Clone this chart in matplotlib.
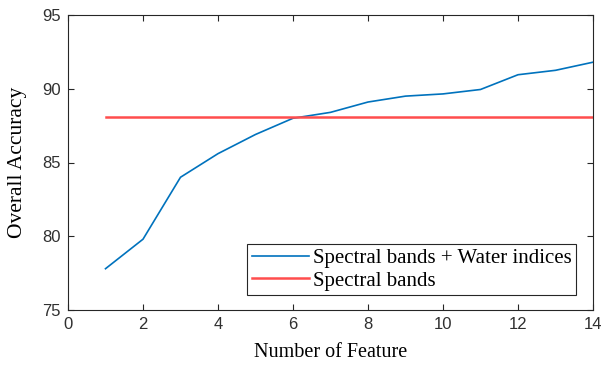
import matplotlib
matplotlib.use('Agg')
import matplotlib.pyplot as plt

# data
n_features = [1, 2, 3, 4, 5, 6, 7, 8, 9, 10, 11, 12, 13, 14]
acc_bands_indices = [77.8, 79.8, 84.0, 85.6, 86.9, 88.0, 88.4, 89.1, 89.5, 89.65, 89.95, 90.95, 91.25, 91.8]
acc_bands = 88.1

xticks = [0, 2, 4, 6, 8, 10, 12, 14]
yticks = [75, 80, 85, 90, 95]

fig = plt.figure(figsize=(6.03, 3.68), dpi=100)
ax = fig.add_axes([68 / 603, 58 / 368, 525 / 603, 295 / 368])

ax.plot(n_features, acc_bands_indices, color='#0072BD', lw=1.2,
        label='Spectral bands + Water indices')
ax.plot([n_features[0], n_features[-1]], [acc_bands, acc_bands],
        color='#FF4D4D', lw=1.8, label='Spectral bands')

ax.set_xlim(0, 14)
ax.set_ylim(75, 95)
ax.set_xticks(xticks)
ax.set_yticks(yticks)
ax.tick_params(direction='in', top=True, right=True, length=4, width=0.8,
               labelsize=12, pad=5, colors='#262626', labelcolor='#303030')
for lbl in ax.get_xticklabels() + ax.get_yticklabels():
    lbl.set_family('Liberation Sans')
for sp in ax.spines.values():
    sp.set_linewidth(0.8)
    sp.set_color('#262626')

ax.set_xlabel('Number of Feature', family='Liberation Serif', fontsize=14.5, labelpad=8)
ax.set_ylabel('Overall Accuracy', family='Liberation Serif', fontsize=15.5, labelpad=11)

leg = ax.legend(loc='lower right', bbox_to_anchor=(0.9676, 0.051),
                prop={'family': 'Liberation Serif', 'size': 15},
                fancybox=False, framealpha=1, edgecolor='#262626',
                handlelength=2.75, handletextpad=0.2, borderpad=0.2,
                labelspacing=0.15, borderaxespad=0)
leg.get_frame().set_linewidth(0.8)

fig.savefig('out.png', dpi=100)
